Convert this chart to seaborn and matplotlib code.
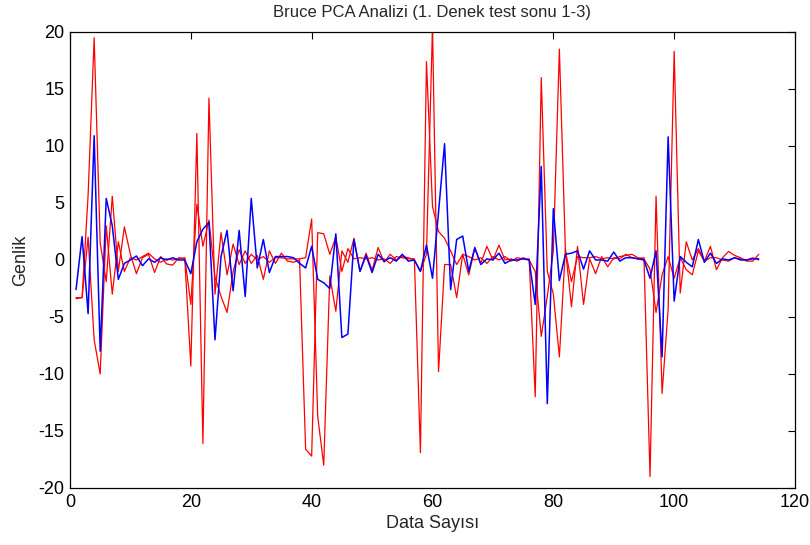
import matplotlib
matplotlib.use("Agg")
import matplotlib.pyplot as plt
import seaborn as sns

# veri (x = 1..114)
blue = [-2.6, 2.05, -4.7, 10.9, -8.0, 5.4, 3.0, -1.7, -0.3, 0.0,
        0.35, -0.5, 0.1, -0.2, 0.2, 0.0, 0.2, 0.0, 0.0, -1.2,
        1.6, 2.7, 3.3, -7.0, 0.3, 2.6, -2.7, 2.6, -3.2, 5.4,
        -0.7, 1.8, -1.1, 0.3, 0.3, 0.3, 0.2, -0.3, -0.7, 1.2,
        -1.7, -2.0, -2.5, 2.3, -6.8, -6.5, 1.8, -1.0, 0.4, -1.1,
        0.5, -0.1, 0.2, -0.1, 0.5, -0.1, 0.0, -1.0, 1.3, -1.6,
        4.2, 10.2, -2.6, 1.8, 2.1, -1.0, 1.1, -0.4, 0.1, 0.0,
        0.6, -0.3, 0.0, 0.0, 0.1, 0.0, -3.9, 8.2, -12.6, 4.5,
        -1.8, 0.5, 0.6, 0.8, -0.8, 0.8, 0.0, 0.0, -0.1, 0.7,
        -0.1, 0.2, 0.2, 0.1, 0.0, -1.6, 0.8, -8.5, 10.8, -3.6,
        0.3, -0.2, -0.6, 1.8, -0.2, 0.6, -0.3, 0.1, 0.0, 0.2,
        0.0, 0.0, 0.1, 0.1]

red_a = [-3.4, -3.3, 5.7, 19.5, 1.5, -1.9, 5.6, -1.0, 2.9, 0.5,
         -1.2, 0.2, 0.5, -1.1, 0.3, -0.35, -0.45, 0.2, 0.1, -9.3,
         11.1, -16.1, 14.2, -3.0, 2.4, -1.3, 1.4, -0.4, 0.8, -0.3,
         0.4, -1.7, 0.8, -0.3, 0.6, -0.1, -0.2, 0.0, -16.6, -17.2,
         2.4, 2.3, 0.5, 2.0, -1.0, 1.0, 0.1, 0.2, 0.1, 0.2,
         0.0, 0.1, -0.3, 0.3, 0.2, 0.1, 0.1, -16.9, 17.4, 4.7,
         2.5, 1.9, 0.8, -0.4, 0.5, 0.3, 0.0, 0.2, -0.3, 0.3,
         0.0, 0.3, -0.1, 0.2, 0.1, 0.1, -12.0, 16.0, -1.0, -3.0,
         -8.5, 1.0, -4.1, 1.2, -3.9, 0.1, -1.2, 0.3, -0.6, 0.2,
         0.1, 0.5, 0.2, 0.1, 0.2, -19.0, 5.6, -11.7, -4.3, 18.3,
         -2.9, 1.6, 0.0, 1.0, -0.1, 1.2, -0.85, 0.2, 0.75, 0.4,
         0.2, -0.1, -0.1, 0.5]

red_b = [-3.3, -3.3, 2.0, -7.0, -10.0, 3.0, -3.0, 1.6, -1.0, 0.2,
         0.0, 0.3, 0.6, 0.1, -0.2, 0.1, 0.0, 0.1, 0.2, -3.9,
         4.9, 1.2, 3.5, -1.5, -3.2, -4.6, -1.0, 0.9, -0.3, 0.5,
         0.0, 0.3, -0.2, 0.2, 0.2, 0.1, 0.1, 0.1, 0.2, 3.6,
         -13.7, -18.0, -1.4, -4.5, 0.8, -0.2, 1.9, -1.0, 0.6, -0.9,
         1.1, -0.2, 0.5, 0.0, 0.3, 0.2, 0.0, -1.0, 0.5, 20.5,
         -9.8, -0.4, -0.4, -3.3, 0.5, -1.3, 1.0, -0.3, 1.2, 0.0,
         1.3, 0.0, 0.1, -0.1, 0.2, 0.0, -1.0, -6.7, -3.2, 0.8,
         18.5, 0.8, -1.9, 0.3, 0.2, 0.2, 0.3, 0.1, 0.2, 0.1,
         0.3, 0.4, 0.5, 0.2, 0.1, -0.8, -4.6, -1.3, 0.3, -1.6,
         0.2, -0.85, -1.3, 0.8, -0.1, 0.2, 0.2, 0.0, -0.1, 0.2,
         0.1, 0.0, 0.2, 0.0]

x = list(range(1, len(blue) + 1))
x_ticks = [0, 20, 40, 60, 80, 100, 120]
y_ticks = [-20, -15, -10, -5, 0, 5, 10, 15, 20]

sns.set_style("white")
plt.rcParams['font.family'] = ['Liberation Sans', 'DejaVu Sans']
plt.rcParams['axes.unicode_minus'] = False

fig = plt.figure(figsize=(8.1, 5.45), dpi=100)
ax = fig.add_axes([0.0864, 0.1046, 0.8951, 0.8367])

sns.lineplot(x=x, y=red_a, color="#ff0000", linewidth=0.9, ax=ax)
sns.lineplot(x=x, y=red_b, color="#ff0000", linewidth=0.9, ax=ax)
sns.lineplot(x=x, y=blue, color="#0000ff", linewidth=1.1, ax=ax)

ax.set_xlim(0, 120)
ax.set_ylim(-20, 20)
ax.set_xticks(x_ticks)
ax.set_yticks(y_ticks)
ax.tick_params(direction="in", length=5, width=0.8, top=True, right=True,
               labelsize=13, colors="black", pad=4)
for s in ax.spines.values():
    s.set_color("black")
    s.set_linewidth(0.9)

ax.set_title("Bruce PCA Analizi (1. Denek test sonu 1-3)", fontsize=12, pad=11)
ax.set_xlabel("Data Sayısı", fontsize=13, labelpad=3)
ax.set_ylabel("Genlik", fontsize=13, labelpad=7)

fig.savefig("out.png", dpi=100)
